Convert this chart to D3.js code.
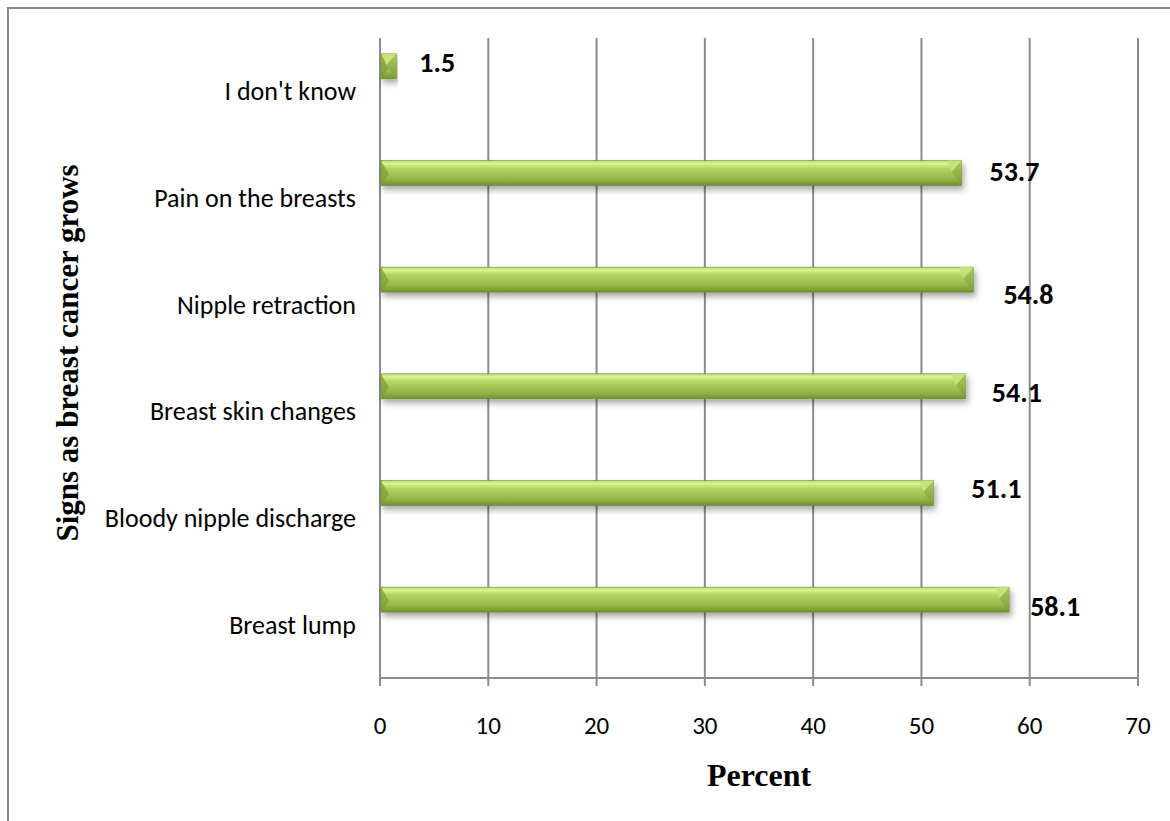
<!DOCTYPE html>
<html>
<head>
<meta charset="utf-8">
<script src="https://cdn.jsdelivr.net/npm/d3@7/dist/d3.min.js"></script>
<style>
  html, body { margin: 0; padding: 0; background: #fff; }
  svg { display: block; }
</style>
</head>
<body>
<svg id="chart" width="1170" height="821"></svg>
<script>
// Survey answers: signs noticed as breast cancer grows (percent of respondents)
const categories = [
  "I don't know",
  "Pain on the breasts",
  "Nipple retraction",
  "Breast skin changes",
  "Bloody nipple discharge",
  "Breast lump"
];
const percents = [1.5, 53.7, 54.8, 54.1, 51.1, 58.1];
const xTicks = [0, 10, 20, 30, 40, 50, 60, 70];

// hand-placed offsets of the value labels from the bar ends [dx, dy]
const labelNudge = [[23, -29], [28, -27], [30, -10], [26, -19], [38, -30], [21, -18]];

const svg = d3.select("#chart");
const plot = { left: 380, right: 1138, top: 38, bottom: 678 };
const bodyFont = "Carlito, Calibri, 'Open Sans', sans-serif";
const titleFont = "'Liberation Serif', 'Times New Roman', serif";
const gridColor = "#8c8c8c";

// outer frame (only top and left edges fall inside the page)
svg.append("path")
  .attr("d", "M8,821 V8 H1170")
  .attr("fill", "none").attr("stroke", "#878787").attr("stroke-width", 2);

const x = d3.scaleLinear().domain([0, 70]).range([plot.left, plot.right]);
const y = d3.scaleBand().domain(categories).range([plot.top, plot.bottom]);

// defs: front-face gradient, end-cap gradient, drop shadow
const defs = svg.append("defs");
const face = defs.append("linearGradient").attr("id", "face")
  .attr("x1", 0).attr("y1", 0).attr("x2", 0).attr("y2", 1);
[[0, "#b9d770"], [0.12, "#dcf592"], [0.3, "#b6d664"], [0.7, "#97ba4b"], [0.9, "#80a03a"], [1, "#6c8a30"]]
  .forEach(([o, c]) => face.append("stop").attr("offset", o).attr("stop-color", c));
const cap = defs.append("linearGradient").attr("id", "cap")
  .attr("x1", 0).attr("y1", 0).attr("x2", 0).attr("y2", 1);
[[0, "#a9c95c"], [1, "#7e9d3b"]]
  .forEach(([o, c]) => cap.append("stop").attr("offset", o).attr("stop-color", c));
const shadow = defs.append("filter").attr("id", "shadow")
  .attr("x", "-5%").attr("y", "-40%").attr("width", "110%").attr("height", "200%");
shadow.append("feDropShadow").attr("dx", 2).attr("dy", 4).attr("stdDeviation", 3)
  .attr("flood-color", "#000").attr("flood-opacity", 0.35);

// vertical gridlines with tick marks below the axis
svg.append("g").selectAll("line").data(xTicks).join("line")
  .attr("x1", d => x(d)).attr("x2", d => x(d))
  .attr("y1", plot.top).attr("y2", plot.bottom + 8)
  .attr("stroke", gridColor).attr("stroke-width", 2);

// horizontal value axis
svg.append("line")
  .attr("x1", plot.left).attr("x2", plot.right)
  .attr("y1", plot.bottom).attr("y2", plot.bottom)
  .attr("stroke", gridColor).attr("stroke-width", 2);

svg.append("g").selectAll("text").data(xTicks).join("text")
  .attr("x", d => x(d)).attr("y", plot.bottom + 56)
  .attr("text-anchor", "middle")
  .attr("font-family", bodyFont).attr("font-size", 25).attr("fill", "#000")
  .text(d => d);

// category labels
svg.append("g").selectAll("text").data(categories).join("text")
  .attr("x", plot.left - 24)
  .attr("y", d => y(d) + y.bandwidth() / 2)
  .attr("dy", "0.35em")
  .attr("text-anchor", "end")
  .attr("font-family", bodyFont).attr("font-size", 26).attr("fill", "#000")
  .text(d => d);

// bars: bevelled boxes sitting above the band centre
const barH = 25;
const barY = d => y(d) + y.bandwidth() / 2 - 25 - barH / 2;
const bars = svg.append("g").selectAll("g").data(categories).join("g")
  .attr("filter", "url(#shadow)");
bars.append("rect")
  .attr("x", x(0) + 1)
  .attr("y", d => barY(d))
  .attr("width", (d, i) => x(percents[i]) - x(0) - 1)
  .attr("height", barH)
  .attr("fill", "url(#face)")
  .attr("stroke", "#6f8d33").attr("stroke-width", 0.6);
// left end bevel
bars.append("path")
  .attr("d", d => {
    const y0 = barY(d), x0 = x(0) + 1;
    return `M${x0},${y0} L${x0 + 8},${y0 + barH * 0.55} L${x0},${y0 + barH} Z`;
  })
  .attr("fill", "#7f9e3a").attr("opacity", 0.75);
// right end cap
bars.append("path")
  .attr("d", (d, i) => {
    const y0 = barY(d), x1 = x(percents[i]);
    const w = Math.min(10, x1 - x(0) - 1);
    return `M${x1},${y0} L${x1},${y0 + barH} L${x1 - w},${y0 + barH * 0.45} Z`;
  })
  .attr("fill", "url(#cap)");
bars.append("path")
  .attr("d", (d, i) => {
    const y0 = barY(d), x1 = x(percents[i]);
    const w = Math.min(10, x1 - x(0) - 1);
    return `M${x1},${y0} L${x1 - w},${y0 + barH * 0.45} L${x1 - w - 4},${y0} Z`;
  })
  .attr("fill", "#c7e27d");

// value labels
svg.append("g").selectAll("text").data(categories).join("text")
  .attr("x", (d, i) => x(percents[i]) + labelNudge[i][0])
  .attr("y", (d, i) => y(d) + y.bandwidth() / 2 + labelNudge[i][1])
  .attr("dy", "0.35em")
  .attr("font-family", bodyFont).attr("font-size", 28).attr("font-weight", "bold")
  .attr("fill", "#000")
  .text((d, i) => percents[i]);

// axis titles
svg.append("text")
  .attr("x", (plot.left + plot.right) / 2).attr("y", 786)
  .attr("text-anchor", "middle")
  .attr("font-family", titleFont).attr("font-weight", "bold").attr("font-size", 32)
  .text("Percent");

svg.append("text")
  .attr("transform", "translate(78,353) rotate(-90)")
  .attr("text-anchor", "middle")
  .attr("font-family", titleFont).attr("font-weight", "bold").attr("font-size", 31)
  .text("Signs as breast cancer grows");
</script>
</body>
</html>
